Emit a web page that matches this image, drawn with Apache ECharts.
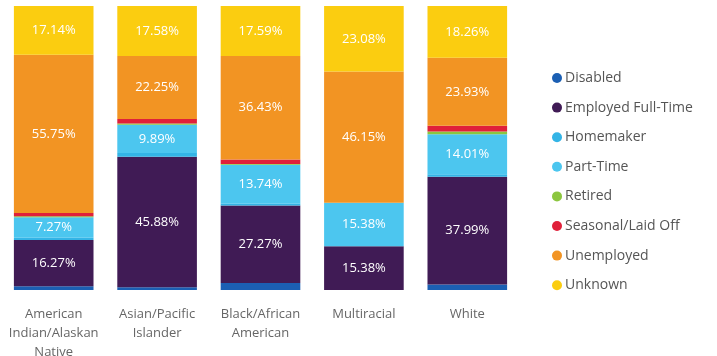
<!DOCTYPE html>
<html><head><meta charset="utf-8">
<script src="https://cdn.jsdelivr.net/npm/echarts@6/dist/echarts.min.js"></script>
<style>html,body{margin:0;padding:0;background:#fff}#c{width:717px;height:356px}</style>
</head><body><div id="c"></div>
<script>
const categories = ['American\nIndian/Alaskan\nNative', 'Asian/Pacific\nIslander', 'Black/African\nAmerican', 'Multiracial', 'White'];
const seriesNames = ['Disabled', 'Employed Full-Time', 'Homemaker', 'Part-Time', 'Retired', 'Seasonal/Laid Off', 'Unemployed', 'Unknown'];
const disabled   = [1.3, 1.0, 2.5, 0, 1.91];
const employed   = [16.27, 45.88, 27.27, 15.38, 37.99];
const homemaker  = [0.8, 1.4, 0.6, 0, 0.9];
const partTime   = [7.27, 9.89, 13.74, 15.38, 14.01];
const retired    = [0.3, 0.5, 0.3, 0, 1.0];
const seasonal   = [1.17, 1.5, 1.57, 0, 2.0];
const unemployed = [55.75, 22.25, 36.43, 46.15, 23.93];
const unknown    = [17.14, 17.58, 17.59, 23.08, 18.26];
const values = [disabled, employed, homemaker, partTime, retired, seasonal, unemployed, unknown];
const colors = ['#1b5fb3', '#401b55', '#33b4e6', '#4cc6ef', '#8cc63f', '#e0203a', '#f29423', '#fbcd10'];

const chart = echarts.init(document.getElementById('c'));
chart.setOption({
  animation: false,
  textStyle: {fontFamily: 'Open Sans'},
  grid: {left: 2, right: 198, top: 6, bottom: 66, containLabel: false, outerBoundsMode: 'none'},
  legend: {
    orient: 'vertical', left: 547, top: 66, itemGap: 15.6,
    icon: 'circle', itemWidth: 10, itemHeight: 10,
    textStyle: {color: '#555', fontSize: 14, padding: [0,0,0,-2]},
    data: seriesNames
  },
  xAxis: {
    type: 'category', data: categories,
    axisLine: {show: false}, axisTick: {show: false},
    axisLabel: {color: '#666', fontSize: 13, lineHeight: 19, margin: 15, interval: 0}
  },
  yAxis: {type: 'value', min: 0, max: 100, show: false, splitLine: {show: false}},
  series: seriesNames.map((n, i) => ({
    name: n, type: 'bar', stack: 'a', barCategoryGap: '23%',
    data: values[i],
    itemStyle: {color: colors[i]},
    label: {
      show: true, color: '#fff', fontSize: 13,
      formatter: p => p.value >= 5 ? p.value.toFixed(2) + '%' : ''
    }
  }))
});
</script></body></html>
